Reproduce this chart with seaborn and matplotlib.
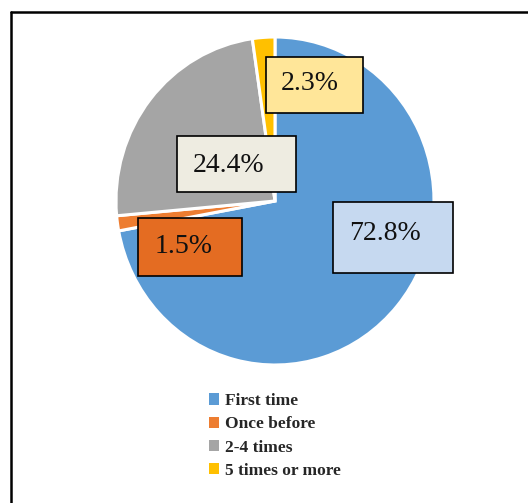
import matplotlib
matplotlib.use("Agg")
import matplotlib.pyplot as plt
from matplotlib.patches import Rectangle
from matplotlib.lines import Line2D
import seaborn as sns

# Visit frequency shares (percent)
categories = ["First time", "Once before", "2-4 times", "5 times or more"]
shares = [72.8, 1.5, 24.4, 2.3]
label_texts = ["72.8%", "1.5%", "24.4%", "2.3%"]

sns.set_theme(style="white")
plt.rcParams["font.family"] = ["Liberation Serif", "DejaVu Serif"]

wedge_colors = sns.color_palette(["#5B9BD5", "#ED7D31", "#A5A5A5", "#FFC000"])
box_colors = ["#C6D9F0", "#E46C22", "#EEECE1", "#FFE699"]

W, H = 528, 503
fig = plt.figure(figsize=(W / 100, H / 100), dpi=100)
fig.patch.set_facecolor("white")

def fx(px):
    return px / W

def fy(py):
    return 1 - py / H

# pie axes
cx, cy, rx, ry = 275, 201, 159, 164
ax = fig.add_axes([fx(cx - rx), fy(cy + ry), 2 * rx / W, 2 * ry / H])
wedges, _ = ax.pie(
    shares,
    colors=wedge_colors,
    startangle=90,
    counterclock=False,
    wedgeprops=dict(edgecolor="white", linewidth=2.2),
)
ax.set_aspect("auto")
ax.set_xlim(-1, 1)
ax.set_ylim(-1, 1)
ax.axis("off")

# value boxes: (text center x, y), (box center x, y), (box w, h) in pixels
box_layout = [
    ((385, 234), (393, 237.5), (120, 71)),
    ((184, 247), (190, 247), (104, 58)),
    ((229, 165), (236.5, 164), (119, 56)),
    ((310, 84), (314.5, 85), (97, 56)),
]
for txt, color, (tpos, bpos, size) in zip(label_texts, box_colors, box_layout):
    bw, bh = size
    rect = Rectangle(
        (fx(bpos[0] - bw / 2), fy(bpos[1] + bh / 2)),
        bw / W, bh / H,
        transform=fig.transFigure,
        facecolor=color, edgecolor="black", linewidth=1.2, zorder=5,
    )
    fig.add_artist(rect)
    fig.text(fx(tpos[0]), fy(tpos[1]), txt, ha="center", va="center",
             fontsize=20, color="#111111", zorder=6)

# legend
leg = fig.legend(
    wedges, categories,
    loc="center", bbox_to_anchor=(fx(275), fy(436)),
    frameon=False,
    prop=dict(family="Liberation Serif", weight="bold", size=12.5),
    handlelength=0.62, handleheight=0.62, handletextpad=0.35,
    labelspacing=0.42, borderpad=0,
)
for h in leg.legend_handles:
    h.set_edgecolor("none")

# frame lines on top and left
fig.add_artist(Line2D([fx(11), 1], [fy(12), fy(12)], color="black", lw=1.8,
                      transform=fig.transFigure))
fig.add_artist(Line2D([fx(11), fx(11)], [fy(12), 0], color="black", lw=1.8,
                      transform=fig.transFigure))

fig.savefig("out.png", dpi=100, facecolor="white")
